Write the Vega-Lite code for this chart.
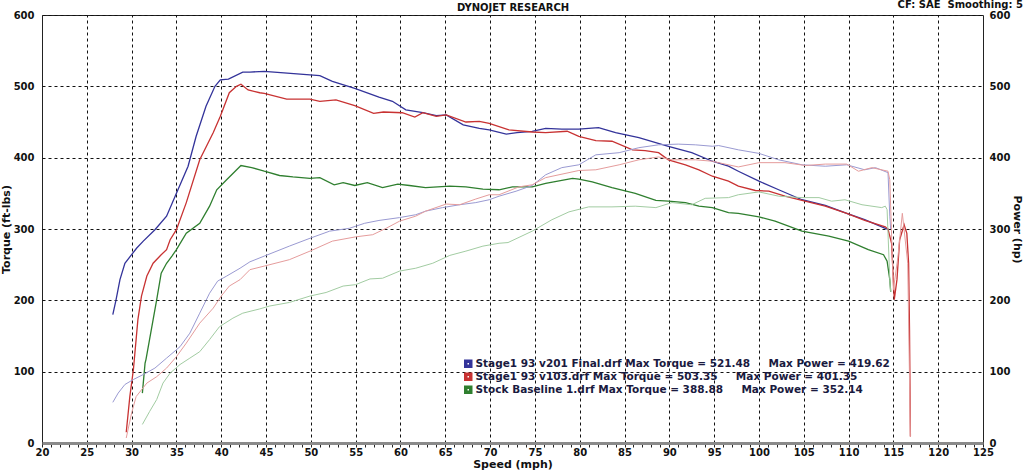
{
"$schema": "https://vega.github.io/schema/vega-lite/v6.json",
"width": 941, "height": 428,
"autosize": "none",
"padding": {"left": 42, "top": 15, "right": 41, "bottom": 27},
"background": "white",
"config": {"font": "DejaVu Sans", "view": {"stroke": "#222", "strokeWidth": 1}},
"title": {"text": "CF: SAE\u00a0\u00a0Smoothing: 5", "anchor": "end", "frame": "bounds", "fontSize": 10, "fontWeight": "bold", "color": "#111", "offset": -8},
"datasets": {
"tq": [
{"run":"A","speed":27.9,"value":180},{"run":"A","speed":28.25,"value":200},{"run":"A","speed":28.7,"value":229},{"run":"A","speed":29.25,"value":252},{"run":"A","speed":30,"value":264},{"run":"A","speed":30.55,"value":273},{"run":"A","speed":31.3,"value":283},{"run":"A","speed":32.6,"value":299},{"run":"A","speed":33.9,"value":318},{"run":"A","speed":35,"value":350},{"run":"A","speed":36.3,"value":388},{"run":"A","speed":37.2,"value":430},{"run":"A","speed":38.3,"value":472},{"run":"A","speed":39.3,"value":500},{"run":"A","speed":39.9,"value":509},{"run":"A","speed":40.8,"value":510},{"run":"A","speed":42.4,"value":520},{"run":"A","speed":43.2,"value":520},{"run":"A","speed":44.8,"value":521},{"run":"A","speed":47,"value":519},{"run":"A","speed":49.9,"value":516},{"run":"A","speed":51,"value":515},{"run":"A","speed":52.4,"value":507},{"run":"A","speed":54.9,"value":497},{"run":"A","speed":57.6,"value":485},{"run":"A","speed":59.1,"value":479},{"run":"A","speed":60.6,"value":467},{"run":"A","speed":62.5,"value":463},{"run":"A","speed":64,"value":459},{"run":"A","speed":65.1,"value":460},{"run":"A","speed":67,"value":446},{"run":"A","speed":68.8,"value":441},{"run":"A","speed":69.9,"value":439},{"run":"A","speed":71.8,"value":433},{"run":"A","speed":73,"value":435},{"run":"A","speed":74.7,"value":437},{"run":"A","speed":76.2,"value":441},{"run":"A","speed":78,"value":440},{"run":"A","speed":79.9,"value":440},{"run":"A","speed":82.1,"value":442},{"run":"A","speed":84,"value":435},{"run":"A","speed":86.6,"value":428},{"run":"A","speed":89.9,"value":416},{"run":"A","speed":92.5,"value":407},{"run":"A","speed":94.8,"value":395},{"run":"A","speed":96.6,"value":388},{"run":"A","speed":97.7,"value":381},{"run":"A","speed":100,"value":367},{"run":"A","speed":102.2,"value":355},{"run":"A","speed":104.8,"value":341},{"run":"A","speed":107.4,"value":333},{"run":"A","speed":109.8,"value":322},{"run":"A","speed":111.8,"value":313},{"run":"A","speed":114.1,"value":301},{"run":"A","speed":114.5,"value":299},
{"run":"B","speed":29.4,"value":15},{"run":"B","speed":29.8,"value":65},{"run":"B","speed":30.2,"value":103},{"run":"B","speed":30.5,"value":145},{"run":"B","speed":30.7,"value":173},{"run":"B","speed":31.1,"value":206},{"run":"B","speed":31.7,"value":234},{"run":"B","speed":32.4,"value":252},{"run":"B","speed":33.3,"value":264},{"run":"B","speed":33.9,"value":271},{"run":"B","speed":34.3,"value":285},{"run":"B","speed":35,"value":299},{"run":"B","speed":36.1,"value":337},{"run":"B","speed":37.6,"value":397},{"run":"B","speed":39.1,"value":435},{"run":"B","speed":39.9,"value":458},{"run":"B","speed":40.9,"value":491},{"run":"B","speed":41.7,"value":500},{"run":"B","speed":42.2,"value":503},{"run":"B","speed":43,"value":495},{"run":"B","speed":44.3,"value":491},{"run":"B","speed":44.8,"value":490},{"run":"B","speed":47.3,"value":482},{"run":"B","speed":49.9,"value":482},{"run":"B","speed":51,"value":479},{"run":"B","speed":52.8,"value":481},{"run":"B","speed":54.9,"value":473},{"run":"B","speed":57,"value":462},{"run":"B","speed":58.1,"value":464},{"run":"B","speed":60.2,"value":463},{"run":"B","speed":61.6,"value":457},{"run":"B","speed":62.5,"value":463},{"run":"B","speed":64,"value":458},{"run":"B","speed":65.1,"value":460},{"run":"B","speed":67.3,"value":450},{"run":"B","speed":68.8,"value":451},{"run":"B","speed":69.9,"value":448},{"run":"B","speed":72.1,"value":439},{"run":"B","speed":74.7,"value":436},{"run":"B","speed":76.2,"value":435},{"run":"B","speed":78.6,"value":437},{"run":"B","speed":79.9,"value":430},{"run":"B","speed":81.8,"value":424},{"run":"B","speed":83.6,"value":423},{"run":"B","speed":85.9,"value":411},{"run":"B","speed":87.3,"value":410},{"run":"B","speed":88.8,"value":407},{"run":"B","speed":89.9,"value":397},{"run":"B","speed":91.8,"value":390},{"run":"B","speed":93.3,"value":383},{"run":"B","speed":94.8,"value":374},{"run":"B","speed":96.6,"value":367},{"run":"B","speed":97.7,"value":360},{"run":"B","speed":99.6,"value":354},{"run":"B","speed":101.1,"value":353},{"run":"B","speed":102.9,"value":346},{"run":"B","speed":104.8,"value":340},{"run":"B","speed":107.4,"value":332},{"run":"B","speed":109.8,"value":322},{"run":"B","speed":111.8,"value":312},{"run":"B","speed":114.1,"value":303},{"run":"B","speed":114.4,"value":300},{"run":"B","speed":114.8,"value":280},{"run":"B","speed":115.1,"value":201},{"run":"B","speed":115.4,"value":229},{"run":"B","speed":115.7,"value":285},{"run":"B","speed":116.2,"value":306},{"run":"B","speed":116.5,"value":294},{"run":"B","speed":116.7,"value":252},{"run":"B","speed":116.8,"value":159},{"run":"B","speed":116.9,"value":9},
{"run":"C","speed":31.2,"value":70},{"run":"C","speed":31.5,"value":112},{"run":"C","speed":31.6,"value":117},{"run":"C","speed":32,"value":145},{"run":"C","speed":32.4,"value":173},{"run":"C","speed":32.8,"value":201},{"run":"C","speed":33.3,"value":238},{"run":"C","speed":33.9,"value":252},{"run":"C","speed":34.5,"value":262},{"run":"C","speed":35,"value":271},{"run":"C","speed":36.1,"value":294},{"run":"C","speed":37.6,"value":308},{"run":"C","speed":38.7,"value":332},{"run":"C","speed":39.5,"value":355},{"run":"C","speed":40.6,"value":369},{"run":"C","speed":42.2,"value":389},{"run":"C","speed":43.4,"value":386},{"run":"C","speed":44.3,"value":383},{"run":"C","speed":44.8,"value":381},{"run":"C","speed":46.5,"value":375},{"run":"C","speed":48,"value":373},{"run":"C","speed":49.9,"value":371},{"run":"C","speed":51,"value":372},{"run":"C","speed":52.6,"value":362},{"run":"C","speed":53.6,"value":365},{"run":"C","speed":54.9,"value":361},{"run":"C","speed":56.3,"value":365},{"run":"C","speed":58,"value":358},{"run":"C","speed":59.7,"value":363},{"run":"C","speed":61,"value":361},{"run":"C","speed":62.8,"value":358},{"run":"C","speed":65.5,"value":360},{"run":"C","speed":67.3,"value":359},{"run":"C","speed":69.2,"value":356},{"run":"C","speed":71,"value":355},{"run":"C","speed":72.5,"value":359},{"run":"C","speed":74.7,"value":359},{"run":"C","speed":76.2,"value":364},{"run":"C","speed":79.2,"value":371},{"run":"C","speed":79.9,"value":370},{"run":"C","speed":81.4,"value":366},{"run":"C","speed":83.6,"value":358},{"run":"C","speed":86.2,"value":350},{"run":"C","speed":88.5,"value":340},{"run":"C","speed":89.9,"value":339},{"run":"C","speed":91.8,"value":337},{"run":"C","speed":93.3,"value":332},{"run":"C","speed":94.8,"value":330},{"run":"C","speed":96.6,"value":323},{"run":"C","speed":97.7,"value":322},{"run":"C","speed":100,"value":317},{"run":"C","speed":101.8,"value":311},{"run":"C","speed":104.8,"value":297},{"run":"C","speed":107.8,"value":290},{"run":"C","speed":110,"value":283},{"run":"C","speed":112.2,"value":271},{"run":"C","speed":113.9,"value":264},{"run":"C","speed":114.3,"value":255},{"run":"C","speed":114.6,"value":229},{"run":"C","speed":114.7,"value":212}
],
"hp": [
{"run":"A","speed":27.9,"value":57},{"run":"A","speed":28.5,"value":70},{"run":"A","speed":29.25,"value":82},{"run":"A","speed":30.2,"value":89},{"run":"A","speed":31.3,"value":96},{"run":"A","speed":32.6,"value":105},{"run":"A","speed":33.9,"value":119},{"run":"A","speed":35.4,"value":135},{"run":"A","speed":36.5,"value":154},{"run":"A","speed":37.6,"value":182},{"run":"A","speed":38.7,"value":210},{"run":"A","speed":39.6,"value":227},{"run":"A","speed":40.6,"value":234},{"run":"A","speed":42.1,"value":245},{"run":"A","speed":43.2,"value":254},{"run":"A","speed":44.8,"value":262},{"run":"A","speed":47.6,"value":276},{"run":"A","speed":49.9,"value":287},{"run":"A","speed":52.1,"value":297},{"run":"A","speed":54.3,"value":301},{"run":"A","speed":56,"value":308},{"run":"A","speed":57.6,"value":312},{"run":"A","speed":59.9,"value":316},{"run":"A","speed":61.7,"value":320},{"run":"A","speed":62.8,"value":325},{"run":"A","speed":64.7,"value":330},{"run":"A","speed":66.6,"value":334},{"run":"A","speed":68.4,"value":337},{"run":"A","speed":69.9,"value":341},{"run":"A","speed":71,"value":346},{"run":"A","speed":72.9,"value":353},{"run":"A","speed":74.7,"value":361},{"run":"A","speed":76.2,"value":376},{"run":"A","speed":78,"value":386},{"run":"A","speed":79.9,"value":390},{"run":"A","speed":81.8,"value":404},{"run":"A","speed":84.4,"value":407},{"run":"A","speed":86.6,"value":414},{"run":"A","speed":88.8,"value":418},{"run":"A","speed":91,"value":419},{"run":"A","speed":92.9,"value":418},{"run":"A","speed":94.8,"value":416},{"run":"A","speed":95.5,"value":417},{"run":"A","speed":97.7,"value":411},{"run":"A","speed":100,"value":406},{"run":"A","speed":102.2,"value":397},{"run":"A","speed":104.8,"value":390},{"run":"A","speed":107.4,"value":388},{"run":"A","speed":109.8,"value":390},{"run":"A","speed":111.8,"value":383},{"run":"A","speed":113,"value":386},{"run":"A","speed":114.4,"value":379},{"run":"A","speed":114.6,"value":318},{"run":"A","speed":114.7,"value":300},
{"run":"B","speed":29.4,"value":7},{"run":"B","speed":30,"value":42},{"run":"B","speed":30.5,"value":65},{"run":"B","speed":31.7,"value":84},{"run":"B","speed":32.8,"value":93},{"run":"B","speed":33.9,"value":105},{"run":"B","speed":35,"value":121},{"run":"B","speed":36.1,"value":140},{"run":"B","speed":37.6,"value":168},{"run":"B","speed":39.1,"value":189},{"run":"B","speed":40,"value":206},{"run":"B","speed":40.9,"value":220},{"run":"B","speed":42.1,"value":229},{"run":"B","speed":43.2,"value":243},{"run":"B","speed":44.8,"value":248},{"run":"B","speed":47.6,"value":257},{"run":"B","speed":49.9,"value":269},{"run":"B","speed":52.4,"value":283},{"run":"B","speed":55,"value":289},{"run":"B","speed":56.9,"value":292},{"run":"B","speed":58.4,"value":301},{"run":"B","speed":59.9,"value":311},{"run":"B","speed":61.7,"value":318},{"run":"B","speed":62.8,"value":325},{"run":"B","speed":65.1,"value":335},{"run":"B","speed":66.6,"value":334},{"run":"B","speed":68.4,"value":342},{"run":"B","speed":69.9,"value":348},{"run":"B","speed":71,"value":348},{"run":"B","speed":73.2,"value":359},{"run":"B","speed":74.7,"value":362},{"run":"B","speed":76.2,"value":372},{"run":"B","speed":79.9,"value":382},{"run":"B","speed":81.8,"value":383},{"run":"B","speed":84.4,"value":390},{"run":"B","speed":86.6,"value":397},{"run":"B","speed":88.8,"value":401},{"run":"B","speed":90.3,"value":397},{"run":"B","speed":92.9,"value":397},{"run":"B","speed":94.8,"value":395},{"run":"B","speed":95.5,"value":393},{"run":"B","speed":97.7,"value":387},{"run":"B","speed":100,"value":393},{"run":"B","speed":102.9,"value":393},{"run":"B","speed":105.2,"value":389},{"run":"B","speed":107.4,"value":391},{"run":"B","speed":109.8,"value":391},{"run":"B","speed":111.1,"value":381},{"run":"B","speed":112.6,"value":386},{"run":"B","speed":114.4,"value":381},{"run":"B","speed":114.6,"value":369},{"run":"B","speed":115,"value":215},{"run":"B","speed":115.5,"value":260},{"run":"B","speed":116,"value":322},{"run":"B","speed":116.6,"value":252},{"run":"B","speed":116.9,"value":9},
{"run":"C","speed":31.2,"value":26},{"run":"C","speed":32,"value":44},{"run":"C","speed":32.8,"value":61},{"run":"C","speed":33.5,"value":84},{"run":"C","speed":34.3,"value":98},{"run":"C","speed":35.4,"value":110},{"run":"C","speed":36.5,"value":119},{"run":"C","speed":37.6,"value":128},{"run":"C","speed":38.7,"value":145},{"run":"C","speed":39.8,"value":163},{"run":"C","speed":41.3,"value":175},{"run":"C","speed":42.4,"value":182},{"run":"C","speed":44.3,"value":188},{"run":"C","speed":45.4,"value":192},{"run":"C","speed":47.6,"value":197},{"run":"C","speed":49.9,"value":206},{"run":"C","speed":51.7,"value":211},{"run":"C","speed":53.6,"value":220},{"run":"C","speed":55,"value":222},{"run":"C","speed":56.6,"value":230},{"run":"C","speed":58,"value":231},{"run":"C","speed":59.9,"value":241},{"run":"C","speed":61.7,"value":245},{"run":"C","speed":63.6,"value":252},{"run":"C","speed":65.5,"value":263},{"run":"C","speed":67.3,"value":269},{"run":"C","speed":69.2,"value":276},{"run":"C","speed":71,"value":280},{"run":"C","speed":72,"value":281},{"run":"C","speed":74.7,"value":297},{"run":"C","speed":76.9,"value":313},{"run":"C","speed":78.8,"value":324},{"run":"C","speed":81,"value":331},{"run":"C","speed":83.6,"value":331},{"run":"C","speed":86.2,"value":332},{"run":"C","speed":88.5,"value":330},{"run":"C","speed":90.3,"value":337},{"run":"C","speed":92.5,"value":334},{"run":"C","speed":94,"value":343},{"run":"C","speed":96.6,"value":344},{"run":"C","speed":97.7,"value":348},{"run":"C","speed":100,"value":352},{"run":"C","speed":102.2,"value":346},{"run":"C","speed":104.8,"value":344},{"run":"C","speed":106.7,"value":344},{"run":"C","speed":108.1,"value":339},{"run":"C","speed":109.6,"value":341},{"run":"C","speed":111.5,"value":334},{"run":"C","speed":113.7,"value":330},{"run":"C","speed":114.1,"value":332},{"run":"C","speed":114.3,"value":327},{"run":"C","speed":114.6,"value":229},{"run":"C","speed":114.7,"value":212}
]
},
"layer": [
{
"data": {"name": "tq"},
"mark": {"type": "line", "strokeWidth": 1.3, "interpolate": "linear"},
"encoding": {
"x": {"field": "speed", "type": "quantitative", "scale": {"domain": [20, 125], "nice": false, "zero": false},
 "axis": {"orient": "bottom", "values": [20,21,22,23,24,25,26,27,28,29,30,31,32,33,34,35,36,37,38,39,40,41,42,43,44,45,46,47,48,49,50,51,52,53,54,55,56,57,58,59,60,61,62,63,64,65,66,67,68,69,70,71,72,73,74,75,76,77,78,79,80,81,82,83,84,85,86,87,88,89,90,91,92,93,94,95,96,97,98,99,100,101,102,103,104,105,106,107,108,109,110,111,112,113,114,115,116,117,118,119,120,121,122,123,124,125],
  "labelExpr": "datum.value % 5 == 0 ? datum.label : ''", "labelOverlap": false, "labelFlush": false,
  "grid": false, "tickSize": 4, "tickColor": "#222", "domainColor": "#8a8a8a", "domainWidth": 3,
  "labelFontSize": 10, "labelFontWeight": "bold", "labelColor": "#111", "labelPadding": 0,
  "title": "Speed (mph)", "titleFontSize": 11, "titleFontWeight": "bold", "titleColor": "#111", "titlePadding": 1}},
"y": {"field": "value", "type": "quantitative", "scale": {"domain": [0, 600], "nice": false},
 "axis": {"orient": "left", "values": [0,100,200,300,400,500,600], "grid": true, "gridDash": [3,3], "gridColor": "#111", "gridOpacity": 1,
  "ticks": false, "domain": false, "labelPadding": 8, "labelFontSize": 10, "labelFontWeight": "bold", "labelColor": "#111",
  "title": "Torque (ft-lbs)", "titleFontSize": 11, "titleFontWeight": "bold", "titleColor": "#111", "titlePadding": 2}},
"color": {"field": "run", "type": "nominal", "scale": {"domain": ["A","B","C"], "range": ["#33339a","#c83232","#2f7f2f"]},
 "legend": {"orient": "none", "legendX": 421, "legendY": 343, "title": null, "symbolType": "square", "symbolSize": 25, "symbolStrokeWidth": 3.5, "symbolOpacity": 1,
  "clipHeight": 11.5, "labelFont": "DejaVu Sans", "labelFontWeight": "bold", "labelFontSize": 10.5, "labelColor": "#1a1a40", "labelLimit": 0, "rowPadding": 1, "labelOffset": 2,
  "labelExpr": "datum.label == 'A' ? 'Stage1 93 v201 Final.drf Max Torque = 521.48\u00a0\u00a0\u00a0\u00a0\u00a0Max Power = 419.62' : datum.label == 'B' ? 'Stage1 93 v103.drf Max Torque = 503.35\u00a0\u00a0\u00a0\u00a0\u00a0Max Power = 401.35' : 'Stock Baseline 1.drf Max Torque = 388.88\u00a0\u00a0\u00a0\u00a0\u00a0Max Power = 352.14'"}}
}
},
{
"data": {"name": "hp"},
"mark": {"type": "line", "strokeWidth": 1},
"encoding": {
"x": {"field": "speed", "type": "quantitative",
 "axis": {"orient": "top", "values": [25,30,35,40,45,50,55,60,65,70,75,80,85,90,95,100,105,110,115,120], "grid": true, "gridDash": [3,3], "gridColor": "#111", "gridOpacity": 1,
  "labels": false, "ticks": false, "domain": false,
  "title": "DYNOJET RESEARCH", "titleFontSize": 10, "titleFontWeight": "bold", "titleColor": "#111", "titlePadding": 3}},
"y": {"field": "value", "type": "quantitative", "scale": {"domain": [0, 600], "nice": false},
 "axis": {"orient": "right", "values": [0,100,200,300,400,500,600], "grid": false, "ticks": false, "domain": false, "labelPadding": 6,
  "labelFontSize": 10, "labelFontWeight": "bold", "labelColor": "#111",
  "title": "Power (hp)", "titleFontSize": 11, "titleFontWeight": "bold", "titleColor": "#111", "titlePadding": 2}},
"stroke": {"field": "run", "type": "nominal", "scale": {"domain": ["A","B","C"], "range": ["#9a9ad2","#e59c9c","#a2cca2"]}, "legend": null}
}
}
],
"resolve": {"scale": {"y": "independent"}, "axis": {"x": "independent", "y": "independent"}}
}
